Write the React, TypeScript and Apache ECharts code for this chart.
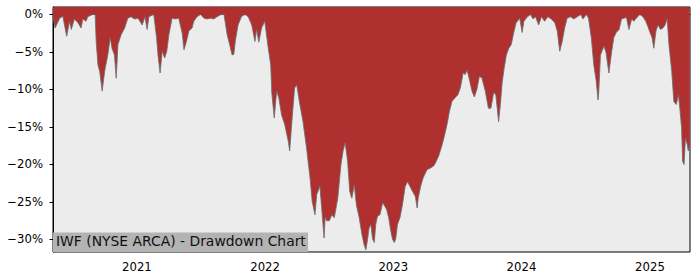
import React, { useEffect, useRef } from "react";
import * as echarts from "echarts";

const title = "IWF (NYSE ARCA) - Drawdown Chart";

const dates: string[] = [
  "2020-05-07","2020-05-13","2020-05-26","2020-06-04","2020-06-15","2020-06-23","2020-06-28","2020-07-07","2020-07-17","2020-07-26","2020-07-31","2020-08-09","2020-08-14","2020-08-28","2020-09-04","2020-09-07","2020-09-12","2020-09-17","2020-09-24","2020-10-01","2020-10-10","2020-10-17","2020-10-22","2020-10-29","2020-11-03","2020-11-08","2020-11-17","2020-11-27","2020-12-06","2020-12-15","2020-12-25",
  "2021-01-04","2021-01-16","2021-01-24","2021-01-30","2021-02-04","2021-02-18","2021-02-26","2021-03-02","2021-03-08","2021-03-14","2021-03-21","2021-03-27","2021-04-02","2021-04-11","2021-04-21","2021-04-30","2021-05-10","2021-05-15","2021-05-22","2021-05-29","2021-06-07","2021-06-12","2021-06-21","2021-07-01","2021-07-11","2021-07-20","2021-07-30","2021-08-08","2021-08-17","2021-08-29","2021-09-06","2021-09-15","2021-09-23","2021-09-29","2021-10-04","2021-10-08","2021-10-16","2021-10-26","2021-11-05","2021-11-14","2021-11-24","2021-12-03","2021-12-08","2021-12-14","2021-12-22","2021-12-31",
  "2022-01-10","2022-01-17","2022-01-20","2022-01-27","2022-02-03","2022-02-09","2022-02-17","2022-02-26","2022-03-08","2022-03-12","2022-03-19","2022-03-26","2022-04-01","2022-04-10","2022-04-19","2022-04-29","2022-05-09","2022-05-15","2022-05-23","2022-05-28","2022-06-06","2022-06-12","2022-06-18","2022-06-21","2022-06-25","2022-07-03","2022-07-10","2022-07-17","2022-07-27","2022-08-05","2022-08-11","2022-08-17","2022-08-24","2022-08-30","2022-09-05","2022-09-12","2022-09-18","2022-09-26","2022-10-04","2022-10-10","2022-10-15","2022-10-20","2022-10-24","2022-10-29","2022-11-03","2022-11-08","2022-11-12","2022-11-17","2022-11-24","2022-12-02","2022-12-06","2022-12-13","2022-12-19","2022-12-25","2022-12-30",
  "2023-01-04","2023-01-08","2023-01-13","2023-01-20","2023-01-27","2023-02-04","2023-02-11","2023-02-17","2023-02-25","2023-03-05","2023-03-10","2023-03-13","2023-03-20","2023-03-27","2023-04-07","2023-04-16","2023-04-26","2023-05-01","2023-05-10","2023-05-20","2023-05-26","2023-06-03","2023-06-10","2023-06-17","2023-06-26","2023-07-04","2023-07-11","2023-07-19","2023-07-25","2023-07-30","2023-08-07","2023-08-13","2023-08-20","2023-08-27","2023-09-03","2023-09-10","2023-09-20","2023-09-29","2023-10-06","2023-10-14","2023-10-20","2023-10-28","2023-11-02","2023-11-07","2023-11-13","2023-11-19","2023-11-26","2023-12-03","2023-12-11","2023-12-17","2023-12-27",
  "2024-01-03","2024-01-08","2024-01-18","2024-01-27","2024-02-03","2024-02-10","2024-02-19","2024-02-27","2024-03-07","2024-03-16","2024-03-26","2024-04-05","2024-04-12","2024-04-19","2024-04-26","2024-05-03","2024-05-10","2024-05-20","2024-05-29","2024-06-08","2024-06-18","2024-06-24","2024-07-04","2024-07-10","2024-07-18","2024-07-25","2024-08-01","2024-08-06","2024-08-08","2024-08-13","2024-08-23","2024-08-29","2024-09-06","2024-09-14","2024-09-20","2024-09-27","2024-10-05","2024-10-12","2024-10-19","2024-10-26","2024-11-02","2024-11-10","2024-11-16","2024-11-23","2024-12-03","2024-12-12","2024-12-20","2024-12-26",
  "2025-01-01","2025-01-07","2025-01-12","2025-01-18","2025-01-24","2025-01-31","2025-02-07","2025-02-13","2025-02-19","2025-02-24","2025-03-04","2025-03-10","2025-03-17","2025-03-23","2025-03-27","2025-04-01","2025-04-04","2025-04-08","2025-04-12","2025-04-17","2025-04-20","2025-04-24"
];

const drawdown: number[] = [
  -0.3,-1.8,-0.5,-0.25,-2.9,-0.9,-2.0,-0.6,-1.1,-1.8,-0.6,-0.9,-0.3,0,0,-3.6,-6.7,-7.6,-10.2,-7.6,-5.4,-3.1,-4.5,-5.4,-8.5,-4.0,-2.7,-1.8,-0.5,-0.3,-0.6,
  -0.5,-1.4,-0.3,-2.0,-0.3,0,-3.1,-5.4,-7.8,-4.9,-5.8,-4.9,-2.7,-0.5,-0.6,-0.5,-2.5,-4.7,-3.6,-2.2,-1.8,-0.9,-0.3,0,-0.5,-0.6,-0.5,-0.6,-0.3,0,0,-2.7,-4.2,-5.4,-5.3,-3.6,-1.4,-0.25,0,-0.3,-1.4,-3.6,-2.0,-3.7,-1.8,-0.9,
  -4.5,-6.7,-10.4,-13.8,-10.2,-11.1,-13.4,-14.7,-16.9,-18.2,-13.8,-9.8,-9.4,-12.0,-14.3,-17.8,-21.8,-24.9,-26.7,-24.0,-22.9,-26.3,-29.8,-27.0,-27.5,-27.5,-26.7,-27.1,-24.5,-20.0,-18.2,-17.1,-19.6,-23.6,-24.5,-22.7,-25.4,-27.1,-29.4,-30.7,-31.4,-29.9,-28.5,-28.0,-29.9,-30.4,-28.0,-26.9,-26.7,-25.1,-25.4,-26.0,-27.1,-28.9,-30.0,
  -30.4,-29.9,-28.0,-27.1,-25.4,-22.9,-22.3,-22.9,-23.6,-24.3,-25.8,-24.5,-22.9,-21.8,-20.7,-20.5,-20.2,-19.8,-18.9,-17.4,-16.3,-14.7,-12.9,-11.6,-11.1,-10.7,-9.8,-7.8,-8.0,-7.4,-8.9,-10.2,-11.0,-10.0,-8.3,-8.4,-10.2,-12.5,-12.5,-10.4,-10.7,-14.3,-12.0,-9.1,-7.1,-5.4,-4.5,-4.0,-2.2,-1.1,-0.5,
  -2.4,-0.9,-0.3,0,-0.6,-0.3,-1.4,-0.3,-0.9,-0.3,-0.6,-1.1,-2.2,-4.9,-3.6,-1.8,-0.5,-0.3,-0.6,-0.3,0,-0.6,0,-0.5,-3.1,-6.7,-8.9,-11.4,-10.5,-5.4,-4.2,-5.1,-7.8,-4.9,-3.1,-2.4,-2.0,-0.6,-0.5,-0.4,-2.0,-0.6,-0.9,-0.5,0,-0.3,-0.9,-1.6,
  -2.4,-3.1,-4.5,-2.2,-1.4,-2.0,-1.8,-1.4,-0.6,-4.0,-7.6,-11.6,-12.0,-10.7,-12.5,-15.1,-19.6,-20.0,-16.5,-17.3,-18.2,-17.5
];

const yTicks: number[] = [0, -5, -10, -15, -20, -25, -30];
const xTickYears: string[] = ["2021-01-01", "2022-01-01", "2023-01-01", "2024-01-01", "2025-01-01"];
const xStart = "2020-05-07";
const xEnd = "2025-04-25";
const yMin = -31.67;
const yMax = 1.0;

export default function App() {
  const ref = useRef<HTMLDivElement>(null);
  useEffect(() => {
    if (!ref.current) return;
    const chart = echarts.init(ref.current, undefined, { renderer: "svg" });
    const font = "DejaVu Sans";
    const data = dates.map((d, i) => [Date.parse(d), drawdown[i]]);
    const xTicks = xTickYears.map((d) => Date.parse(d));
    chart.setOption({
      animation: false,
      grid: {
        left: 53,
        top: 7,
        width: 637,
        height: 245,
        show: true,
        backgroundColor: "#ececec",
        borderColor: "#000",
        borderWidth: 1,
        containLabel: false,
      },
      xAxis: {
        type: "value",
        min: Date.parse(xStart),
        max: Date.parse(xEnd),
        splitLine: { show: false },
        axisLine: { show: true, lineStyle: { color: "#000", width: 1 } },
        axisTick: { show: true, length: 3.5, customValues: xTicks, lineStyle: { color: "#000" } },
        axisLabel: {
          customValues: xTicks,
          formatter: (v: number) => String(new Date(v).getUTCFullYear()),
          fontFamily: font,
          fontSize: 11.7,
          color: "#000",
          margin: 8.5,
        },
      },
      yAxis: {
        type: "value",
        min: yMin,
        max: yMax,
        splitLine: { show: false },
        axisLine: { show: true, onZero: false, lineStyle: { color: "#000", width: 1 } },
        axisTick: { show: true, length: 3.5, customValues: yTicks, lineStyle: { color: "#000" } },
        axisLabel: {
          customValues: yTicks,
          formatter: (v: number) => (v === 0 ? "0%" : "\u2212" + Math.abs(v) + "%"),
          fontFamily: font,
          fontSize: 11.7,
          color: "#000",
          margin: 10,
        },
      },
      series: [
        {
          type: "line",
          data,
          symbol: "none",
          lineStyle: { color: "rgba(110,110,110,0.85)", width: 1 },
          areaStyle: { color: "#b03030", opacity: 1, origin: "end" },
          z: 2,
        },
      ],
      graphic: [
        {
          type: "rect",
          left: 53,
          top: 232.5,
          shape: { width: 255, height: 19.5 },
          style: { fill: "#b3b3b3" },
          z: 100,
        },
        {
          type: "text",
          left: 56,
          top: 234,
          style: {
            text: title,
            fontFamily: font,
            fontSize: 13.9,
            fill: "#111",
          },
          z: 101,
        },
      ],
    });
    return () => chart.dispose();
  }, []);
  return (
    <div
      ref={ref}
      style={{ position: "absolute", left: 0, top: 0, width: 700, height: 280 }}
    />
  );
}
